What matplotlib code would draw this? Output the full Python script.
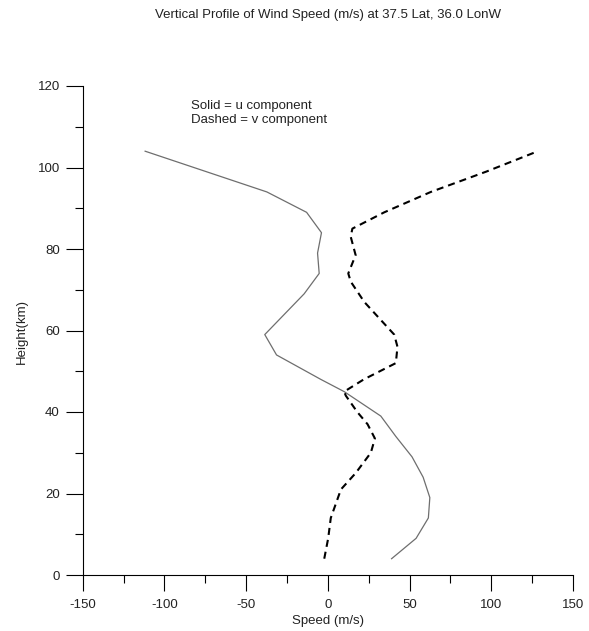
import matplotlib
matplotlib.use('Agg')
import matplotlib.pyplot as plt
from matplotlib.ticker import MultipleLocator

plt.rcParams['font.family'] = ['Liberation Sans', 'DejaVu Sans']

title = "Vertical Profile of Wind Speed (m/s) at 37.5 Lat, 36.0 LonW"
x_label = "Speed (m/s)"
y_label = "Height(km)"
note_lines = ["Solid = u component", "Dashed = v component"]

# u component (solid)
z_u = [4, 9, 14, 19, 24, 29, 34, 39, 45, 48, 54, 59, 69, 74, 79, 84, 89, 94, 104]
u = [39, 54, 61.5, 62.4, 58.3, 51.5, 41.6, 32.4, 10, -4.3, -31.4, -38.6,
     -14.5, -5.3, -6.3, -3.9, -13, -37.3, -111.8]

# v component (dashed)
z_v = [4, 9, 14, 21, 25, 30, 33.5, 37, 40, 44, 45, 48, 52, 56, 59, 67, 72,
       74, 78.5, 83, 85, 89, 94, 99, 104]
v = [-2.2, 0.2, 1.8, 8, 17, 26.3, 28.8, 24.3, 18, 11, 10, 22, 41.6, 42.6,
     40.6, 22.3, 14, 12.5, 17, 14, 15, 34.5, 63, 97, 128.5]

x_ticks = [-150, -100, -50, 0, 50, 100, 150]
y_ticks = [0, 20, 40, 60, 80, 100, 120]

W, H = 589, 631
fig = plt.figure(figsize=(W / 100, H / 100), dpi=100)
fig.patch.set_facecolor('white')


def fx(px):
    return px / W


def fy(py):
    return 1 - py / H


ax = fig.add_axes([fx(82.7), fy(575), 490.3 / W, 489 / H])
ax.plot(u, z_u, color='#6e6e6e', lw=0.9)
ax.plot(v, z_v, color='black', lw=1.5, dashes=(3.4, 2.4))

ax.set_xlim(-150, 150)
ax.set_ylim(0, 120)
ax.set_xticks(x_ticks)
ax.set_yticks(y_ticks)
ax.set_xticklabels([str(t) for t in x_ticks])
ax.set_yticklabels([str(t) for t in y_ticks])
ax.xaxis.set_minor_locator(MultipleLocator(25))
ax.yaxis.set_minor_locator(MultipleLocator(10))

for s in ['top', 'right']:
    ax.spines[s].set_visible(False)
for s in ['left', 'bottom']:
    ax.spines[s].set_linewidth(0.8)
    ax.spines[s].set_color('black')

ax.tick_params(axis='x', which='major', direction='out', length=11.5, width=0.8,
               pad=6, labelsize=9.5, labelcolor='#222222')
ax.tick_params(axis='x', which='minor', direction='out', length=5.8, width=0.8)
ax.tick_params(axis='y', which='major', direction='out', length=12.5, width=0.8,
               pad=4, labelsize=9.5, labelcolor='#222222')
ax.tick_params(axis='y', which='minor', direction='out', length=5.5, width=0.8)

fig.text(fx(328), fy(15), title, ha='center', va='center', fontsize=9.5, color='#222222')
fig.text(fx(328), fy(621), x_label, ha='center', va='center', fontsize=9.5, color='#222222')
fig.text(fx(22), fy(331), y_label, ha='center', va='center', rotation=90,
         fontsize=9.5, color='#222222')
fig.text(fx(191), fy(106), note_lines[0], ha='left', va='center', fontsize=9.5, color='#222222')
fig.text(fx(191), fy(120), note_lines[1], ha='left', va='center', fontsize=9.5, color='#222222')

fig.savefig('out.png', dpi=100, facecolor='white')
